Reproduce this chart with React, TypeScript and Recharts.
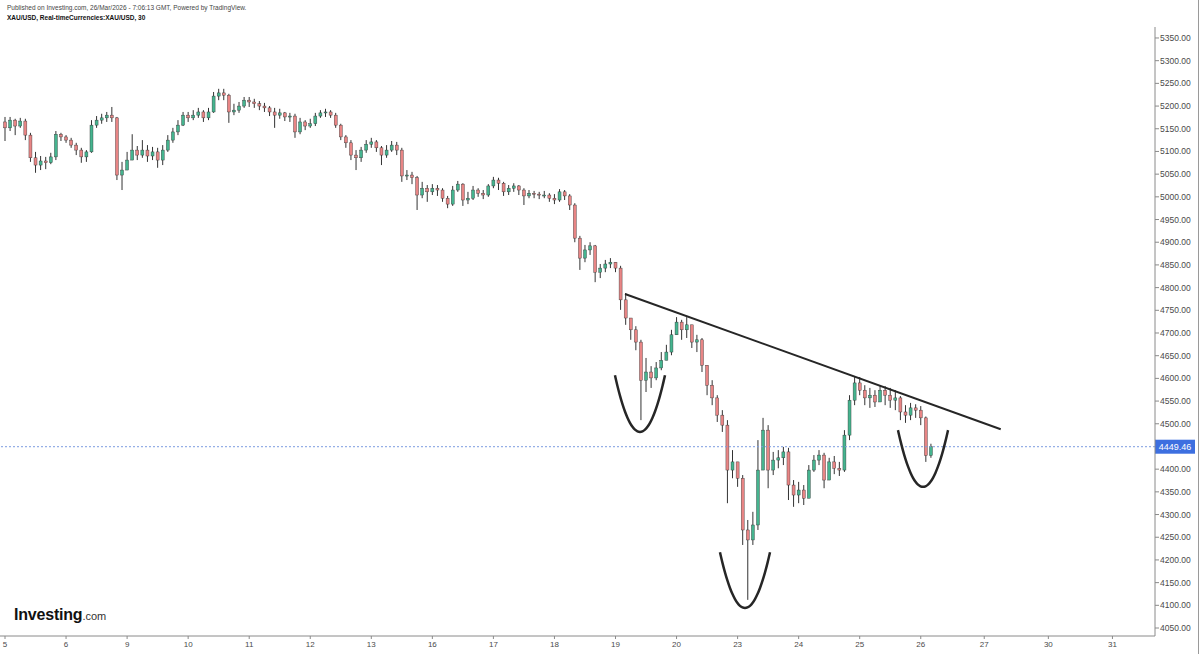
import React from 'react';
import { ComposedChart, Bar, Line, XAxis, YAxis, ReferenceLine } from 'recharts';

// ---- Data (XAU/USD, 2-hour sampling) ----
const dayLabels = ['5', '6', '9', '10', '11', '12', '13', '16', '17', '18', '19', '20', '23', '24', '25', '26', '27', '30', '31'];
const dayTickPos = [0, 1, 2, 3, 4, 5, 6, 7, 8, 9, 10, 11, 12, 13, 14, 15, 16.04, 17.09, 18.14];
const barsPerDay = 12;
const firstOpen = 5165;
const lastPrice = 4449.46;

const closes = [
  5152, 5169, 5156, 5167, 5136, 5086, 5070, 5079, 5075, 5088, 5138, 5132,
  5125, 5114, 5103, 5088, 5099, 5158, 5169, 5174, 5180, 5174, 5048, 5059,
  5081, 5103, 5092, 5103, 5090, 5099, 5081, 5103, 5125, 5143, 5158, 5180,
  5174, 5180, 5187, 5174, 5187, 5222, 5229, 5224, 5187, 5191, 5200, 5213,
  5209, 5205, 5200, 5196, 5187, 5180, 5185, 5176, 5178, 5143, 5165, 5156,
  5161, 5178, 5185, 5187, 5180, 5158, 5132, 5119, 5092, 5086, 5103, 5116,
  5121, 5108, 5092, 5103, 5114, 5103, 5046, 5048, 5042, 5004, 5019, 5011,
  5019, 5015, 4997, 4984, 5015, 5028, 4993, 4997, 5015, 5008, 5004, 5024,
  5037, 5030, 5011, 5019, 5024, 5015, 5002, 5008, 5006, 5004, 5004, 4997,
  4993, 5011, 5002, 4982, 4909, 4865, 4883, 4892, 4834, 4843, 4852, 4856,
  4843, 4773, 4733, 4707, 4680, 4596, 4614, 4601, 4623, 4640, 4658, 4696,
  4724, 4707, 4718, 4680, 4685, 4629, 4585, 4557, 4519, 4497, 4398, 4416,
  4380, 4266, 4244, 4277, 4398, 4486, 4398, 4420, 4425, 4438, 4365, 4343,
  4354, 4336, 4398, 4420, 4431, 4376, 4416, 4402, 4398, 4475, 4552, 4590,
  4574, 4557, 4563, 4548, 4574, 4563, 4552, 4557, 4526, 4519, 4535, 4530,
  4513, 4430, 4449.46,
];

const highs = [
  5176, 5176, 5172, 5174, 5172, 5141, 5099, 5090, 5088, 5097, 5145, 5141,
  5136, 5130, 5119, 5108, 5103, 5169, 5178, 5183, 5187, 5198, 5176, 5077,
  5099, 5138, 5112, 5125, 5114, 5110, 5108, 5114, 5136, 5152, 5169, 5187,
  5187, 5191, 5196, 5191, 5196, 5231, 5238, 5238, 5227, 5205, 5209, 5220,
  5220, 5216, 5211, 5207, 5200, 5196, 5194, 5187, 5185, 5183, 5174, 5169,
  5172, 5185, 5191, 5194, 5191, 5185, 5161, 5136, 5125, 5103, 5110, 5125,
  5130, 5125, 5112, 5114, 5123, 5121, 5108, 5059, 5055, 5046, 5033, 5026,
  5028, 5026, 5019, 5002, 5024, 5035, 5030, 5011, 5024, 5019, 5015, 5028,
  5044, 5042, 5033, 5026, 5030, 5026, 5019, 5015, 5013, 5011, 5013, 5008,
  5006, 5017, 5015, 5006, 4986, 4914, 4894, 4900, 4894, 4852, 4861, 4865,
  4856, 4848, 4788, 4729, 4715, 4685, 4645, 4627, 4636, 4658, 4674, 4707,
  4735, 4729, 4735, 4718, 4696, 4689, 4629, 4596, 4563, 4530, 4508, 4442,
  4416, 4387, 4288, 4306, 4464, 4513, 4497, 4438, 4442, 4449, 4447, 4376,
  4372, 4365, 4409, 4431, 4442, 4436, 4425, 4429, 4416, 4486, 4563, 4603,
  4603, 4585, 4579, 4574, 4585, 4583, 4579, 4574, 4561, 4541, 4546, 4543,
  4539, 4516, 4456,
];

const lows = [
  5123, 5145, 5136, 5152, 5125, 5077, 5053, 5059, 5061, 5072, 5081, 5123,
  5119, 5108, 5092, 5075, 5077, 5097, 5152, 5161, 5165, 5165, 5037, 5015,
  5059, 5081, 5081, 5086, 5077, 5081, 5064, 5070, 5099, 5119, 5136, 5156,
  5165, 5169, 5174, 5165, 5169, 5185, 5213, 5213, 5163, 5180, 5185, 5196,
  5198, 5196, 5191, 5187, 5178, 5152, 5172, 5167, 5165, 5130, 5138, 5147,
  5152, 5156, 5174, 5176, 5174, 5152, 5125, 5108, 5081, 5059, 5077, 5097,
  5108, 5099, 5070, 5086, 5099, 5092, 5033, 5037, 5028, 4971, 4997, 4989,
  5004, 5002, 4989, 4975, 4980, 5011, 4980, 4984, 4993, 5000, 4995, 5000,
  5019, 5015, 5002, 5004, 5011, 5004, 4982, 4997, 4997, 4995, 4997, 4989,
  4984, 4989, 4993, 4971, 4900, 4839, 4856, 4872, 4812, 4821, 4834, 4843,
  4834, 4751, 4718, 4685, 4662, 4508, 4570, 4579, 4596, 4618, 4640, 4651,
  4700, 4685, 4689, 4667, 4658, 4614, 4563, 4541, 4504, 4482, 4325, 4380,
  4361, 4233, 4112, 4233, 4266, 4453, 4358, 4387, 4402, 4409, 4332, 4317,
  4325, 4321, 4343, 4394, 4409, 4358, 4380, 4389, 4385, 4394, 4464, 4541,
  4563, 4541, 4535, 4537, 4552, 4541, 4535, 4530, 4508, 4502, 4508, 4513,
  4497, 4416, 4425,
];

const priceTicks = [
  4050, 4100, 4150, 4200, 4250, 4300, 4350, 4400, 4500, 4550, 4600, 4650,
  4700, 4750, 4800, 4850, 4900, 4950, 5000, 5050, 5100, 5150, 5200, 5250, 5300, 5350,
];

// Drawn annotations (data units): trend line and three "cup" arcs
const trendStart = { x: 10.156, y: 4786 };
const trendEnd = { x: 16.31, y: 4488 };
const arcCenters = [10.401, 12.121, 15.037];
const arcBottoms = [4482, 4094, 4361];
const arcTops = [4607, 4217, 4486];
const arcHalfWidth = 0.41;

// ---- Build tables ----
const candles = closes.map((c, i) => {
  const o = i === 0 ? firstOpen : closes[i - 1];
  return {
    t: Math.floor(i / barsPerDay) + (i % barsPerDay) / barsPerDay,
    o,
    c,
    h: Math.max(highs[i], o, c),
    l: Math.min(lows[i], o, c),
  };
});

const arcs = arcCenters.map((cx, k) => {
  const pts = [];
  for (let s = -10; s <= 10; s++) {
    const u = s / 10;
    pts.push({ t: cx + u * arcHalfWidth, p: arcBottoms[k] + (arcTops[k] - arcBottoms[k]) * u * u });
  }
  return pts;
});

const UP = '#45b48f';
const DOWN = '#e88585';
const WICK = '#333333';
const BODY_W = 3;
const FONT = '"Liberation Sans", Arial, sans-serif';

const findCandle = (props: any) => {
  if (props && typeof props.o === 'number') return props;
  if (props && props.payload && typeof props.payload.o === 'number') return props.payload;
  if (props && props.payload && props.payload.payload && typeof props.payload.payload.o === 'number') return props.payload.payload;
  if (props && typeof props.index === 'number' && candles[props.index]) return candles[props.index];
  return null;
};

const Candle = (props: any) => {
  const { x, y, width, height } = props;
  const d = findCandle(props);
  if (!d) return null;
  const { o, c, h, l } = d;
  const y0 = Math.min(y, y + height);
  const y1 = Math.max(y, y + height);
  const range = h - l;
  const py = (v: number) => (range === 0 ? y0 : y0 + ((h - v) / range) * (y1 - y0));
  const up = c >= o;
  const top = py(Math.max(o, c));
  const bot = py(Math.min(o, c));
  const cx = x + (width || 0) / 2;
  return (
    <g>
      <line x1={cx} x2={cx} y1={y0} y2={Math.max(y1, y0 + 1)} stroke={WICK} strokeWidth={1} />
      <rect
        x={cx - BODY_W / 2}
        y={top}
        width={BODY_W}
        height={Math.max(bot - top, 1)}
        fill={up ? UP : DOWN}
        stroke={WICK}
        strokeWidth={0.4}
      />
    </g>
  );
};

const PriceTag = (props: any) => {
  const vb = props.viewBox || {};
  const x = (vb.x || 0) + (vb.width || 0);
  const y = vb.y || 0;
  return (
    <g>
      <rect x={x} y={y - 7} width={40} height={14} fill="#3d6fe0" />
      <text x={x + 20} y={y + 3.5} textAnchor="middle" fill="#ffffff" fontSize={9} fontFamily={FONT}>
        {lastPrice.toFixed(2)}
      </text>
    </g>
  );
};

export default function App() {
  return (
    <div style={{ position: 'absolute', left: 0, top: 0, width: 1200, height: 654, background: '#ffffff', fontFamily: FONT }}>
      <ComposedChart width={1200} height={654} data={candles} margin={{ top: 27, right: 0, bottom: 0, left: 0 }}>
        <XAxis
          type="number"
          dataKey="t"
          domain={[-0.082, 18.837]}
          allowDataOverflow
          ticks={dayTickPos}
          interval={0}
          tickFormatter={(v: number) => dayLabels[dayTickPos.indexOf(v)] ?? ''}
          height={18}
          stroke="#8a8a8a"
          tickSize={3}
          tickMargin={2}
          tick={{ fontSize: 8, fill: '#4a4a4a', fontFamily: FONT }}
        />
        <YAxis
          orientation="right"
          type="number"
          domain={[4032.4, 5374.2]}
          allowDataOverflow
          ticks={priceTicks}
          interval={0}
          tickFormatter={(v: number) => v.toFixed(2)}
          width={45}
          stroke="#8a8a8a"
          tickSize={4}
          tickMargin={1}
          tick={{ fontSize: 8.5, fill: '#4a4a4a', fontFamily: FONT }}
        />
        <ReferenceLine
          y={lastPrice}
          stroke="#7b9be0"
          strokeDasharray="2 2"
          strokeWidth={1}
          label={(p: any) => <PriceTag {...p} />}
        />
        <Bar
          dataKey={(d: any) => [d.l, d.h]}
          barSize={3}
          shape={(p: any) => <Candle {...p} />}
          isAnimationActive={false}
        />
        <ReferenceLine
          segment={[trendStart, trendEnd]}
          stroke="#262626"
          strokeWidth={2}
          ifOverflow="visible"
        />
        {arcs.map((pts, k) => (
          <Line
            key={k}
            data={pts}
            dataKey="p"
            type="monotone"
            stroke="#262626"
            strokeWidth={2.5}
            dot={false}
            activeDot={false}
            isAnimationActive={false}
          />
        ))}
      </ComposedChart>
      <div style={{ position: 'absolute', left: 7, top: 4, fontSize: 6.5, lineHeight: '8px', color: '#444', whiteSpace: 'nowrap' }}>
        Published on Investing.com, 26/Mar/2026 - 7:06:13 GMT, Powered by TradingView.
      </div>
      <div style={{ position: 'absolute', left: 7, top: 14, fontSize: 6.5, lineHeight: '8px', color: '#111', fontWeight: 700, whiteSpace: 'nowrap' }}>
        XAU/USD, Real-timeCurrencies:XAU/USD, 30
      </div>
      <div style={{ position: 'absolute', left: 14, top: 605, whiteSpace: 'nowrap', lineHeight: '20px' }}>
        <span style={{ fontSize: 16, fontWeight: 700, color: '#111', letterSpacing: -0.2 }}>Investing</span>
        <span style={{ fontSize: 11, color: '#333' }}>.com</span>
      </div>
      <div style={{ position: 'absolute', left: 1198, top: 0, width: 1, height: 654, background: '#9a9a9a' }} />
    </div>
  );
}
